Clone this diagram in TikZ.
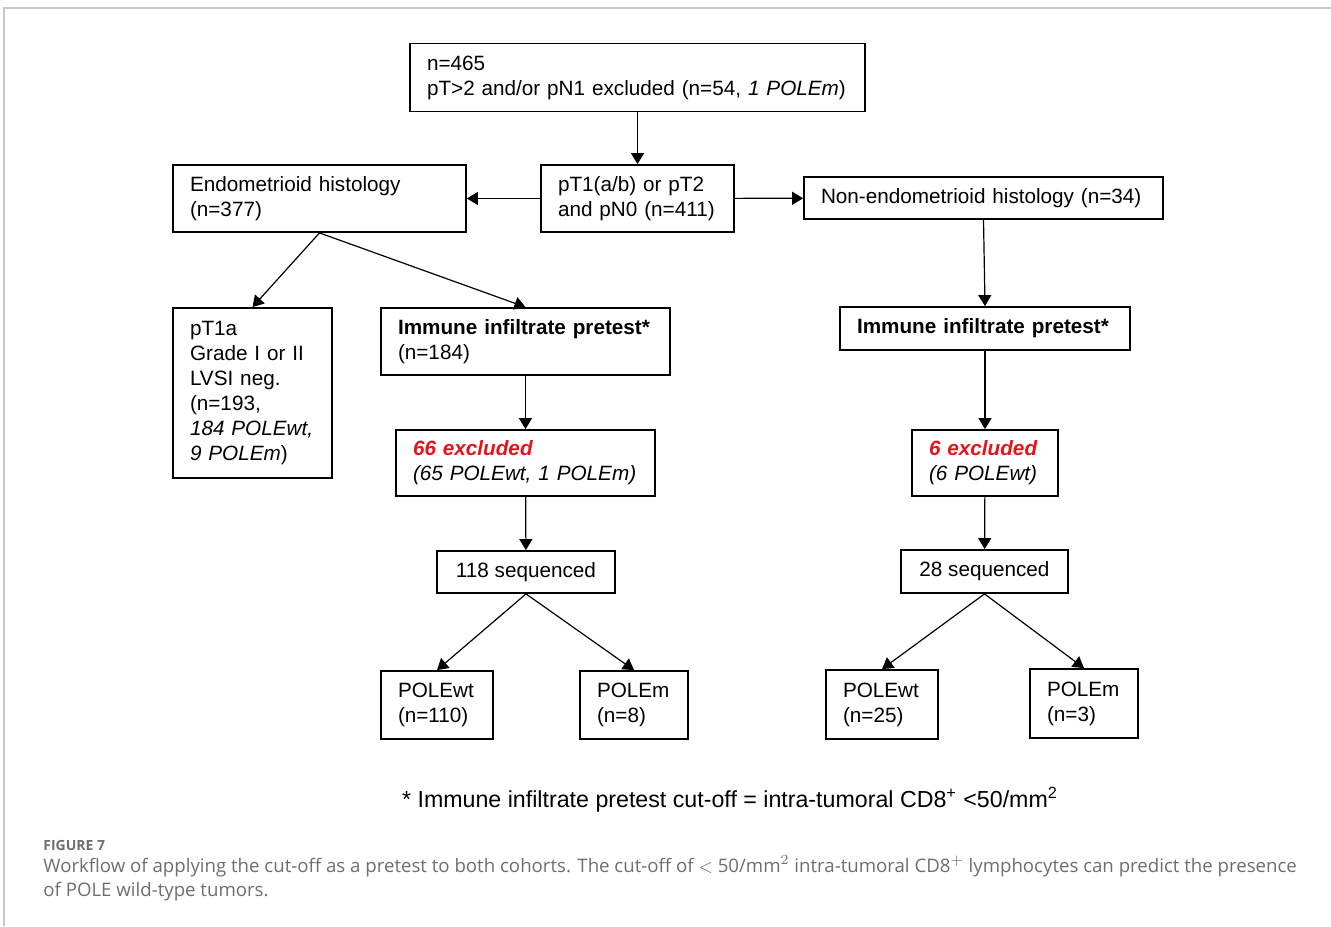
\documentclass[tikz,border=0pt]{standalone}
\usepackage{fontspec}
\setmainfont{Liberation Sans}
\newfontfamily\capfont{Open Sans}
\usepackage{tikz}
\usetikzlibrary{arrows.meta}
\definecolor{capgray}{HTML}{6E6E6E}
\definecolor{framegray}{HTML}{C8C8C8}
\definecolor{exred}{HTML}{E8121B}

\begin{document}
\begin{tikzpicture}[x=0.5pt,y=-0.5pt,
  box/.style={draw,line width=0.9pt,inner xsep=8.5pt,inner ysep=0pt,align=left,
    font=\fontsize{10.35}{12.5}\selectfont},
  cbox/.style={draw,line width=0.9pt,inner sep=0pt,align=center,
    font=\fontsize{10.35}{12.5}\selectfont},
  arr/.style={line width=0.6pt,-{Triangle[length=5.5pt,width=6.5pt]}}]
\useasboundingbox (0,0) rectangle (1331,926);
\draw[framegray,line width=0.9pt] (1331,8) -- (4,8) -- (4,926);
% flow boxes
\node[box,text width=210.5pt,minimum height=34pt] (all) at (637.5,77.5) {n=465\\pT>2 and/or pN1 excluded (n=54, \textit{1 POLEm})};
\node[box,text width=79.5pt,minimum height=33.5pt] (split) at (637.5,198.5) {pT1(a/b) or pT2\\and pN0 (n=411)};
\node[box,text width=129.5pt,minimum height=33.5pt] (endo) at (319.5,198.5) {Endometrioid histology\\(n=377)};
\node[box,text width=162.5pt,minimum height=21pt] (nonendo) at (983.5,198) {Non-endometrioid histology (n=34)};
\node[box,text width=62.5pt,minimum height=85pt] (lowrisk) at (252.5,393) {pT1a\\Grade I or II\\LVSI neg.\\(n=193,\\\textit{184 POLEwt,}\\\textit{9 POLEm})};
\node[box,text width=127.5pt,minimum height=33.5pt] (pretestA) at (525.5,341.5) {\textbf{Immune infiltrate pretest*}\\(n=184)};
\node[box,text width=128pt,minimum height=21.5pt] (pretestB) at (985,328.5) {\textbf{Immune infiltrate pretest*}};
\node[box,text width=112.5pt,minimum height=33pt] (exclA) at (525.5,463) {\textcolor{exred}{\textbf{\textit{66 excluded}}}\\\textit{(65 POLEwt, 1 POLEm)}};
\node[box,text width=56pt,minimum height=33pt] (exclB) at (985,463) {\textcolor{exred}{\textbf{\textit{6 excluded}}}\\\textit{(6 POLEwt)}};
\node[cbox,minimum width=89pt,minimum height=21pt] (seqA) at (526,572) {118 sequenced};
\node[cbox,minimum width=83.5pt,minimum height=21.5pt] (seqB) at (984.5,571.5) {28 sequenced};
\node[box,text width=39pt,minimum height=34pt] (wtA) at (437,705) {POLEwt\\(n=110)};
\node[box,text width=37pt,minimum height=34pt] (mA) at (634,705) {POLEm\\(n=8)};
\node[box,text width=39pt,minimum height=34.5pt] (wtB) at (882,704.5) {POLEwt\\(n=25)};
\node[box,text width=37pt,minimum height=34.5pt] (mB) at (1084,703.5) {POLEm\\(n=3)};
% connectors
\draw[arr] (all) -- (split);
\draw[arr] (split) -- (endo);
\draw[arr] (split) -- (nonendo);
\draw[arr] (endo.south) -- (lowrisk.north);
\draw[arr] (endo.south) -- (pretestA.north);
\draw[arr] (nonendo.south) -- (pretestB.north);
\draw[arr] (pretestA) -- (exclA);
\draw[arr] (pretestB) -- (exclB);
\draw[arr] (exclA) -- (seqA);
\draw[arr] (exclB) -- (seqB);
\draw[arr] (seqA.south) -- (wtA.north);
\draw[arr] (seqA.south) -- (mA.north);
\draw[arr] (seqB.south) -- (wtB.north);
\draw[arr] (seqB.south) -- (mB.north);
% footnote and caption
\node[font=\fontsize{11.6}{14}\selectfont] (note) at (730,800) {* Immune infiltrate pretest cut-off = intra-tumoral CD8\textsuperscript{+} <50/mm\textsuperscript{2}};
\node[anchor=base west,inner sep=0pt,text=capgray,font=\capfont\bfseries\fontsize{7}{8}\selectfont] (figlabel) at (43,850) {FIGURE 7};
\node[anchor=north west,inner sep=0pt,text=capgray,align=left,font=\capfont\fontsize{9.32}{12}\selectfont] (caption) at (43,855) {Workflow of applying the cut-off as a pretest to both cohorts. The cut-off of $<$ 50/mm$^2$ intra-tumoral CD8$^+$ lymphocytes can predict the presence\\of POLE wild-type tumors.};
\end{tikzpicture}
\end{document}
